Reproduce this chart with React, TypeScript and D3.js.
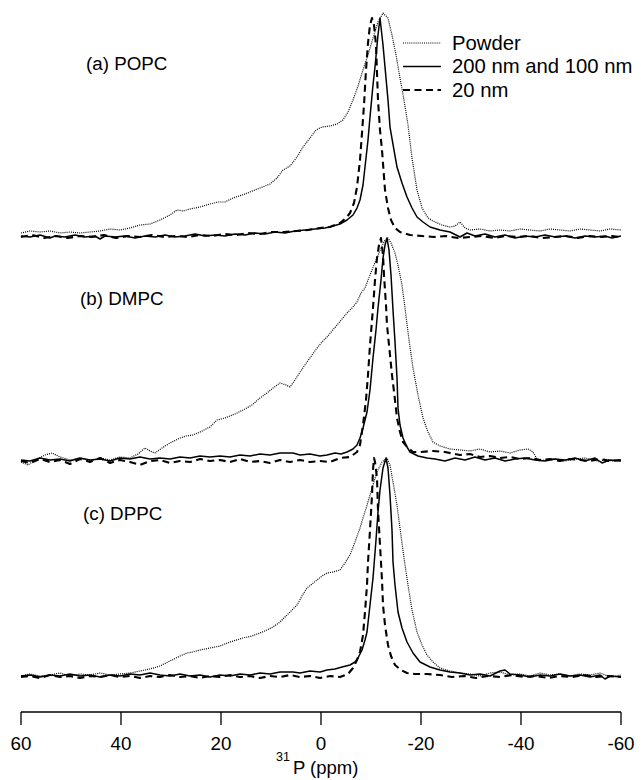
import React from "react";
import * as d3 from "d3";

type Pt = [number, number];

// ---- data: [ppm, intensity] ----
const popcPowder: Pt[] = [
  [60, 1.35], [58.2, 2.25], [56.2, 1.8], [54.2, 2.25], [52.2, 1.35], [50.2, 1.8], [48.2, 1.35], [46.2, 1.8],
  [44.2, 2.25], [42.2, 3.15], [40.2, 2.7], [38.2, 3.6], [36.2, 4.95], [34.2, 5.4], [32.2, 7.2], [30.2, 9.45],
  [28.8, 11.7], [27.6, 11.25], [26.2, 12.15], [24.2, 13.05], [22.2, 14.4], [20.6, 15.3], [19.2, 15.3],
  [17.6, 17.1], [15.2, 18.9], [12.2, 21.6], [10.2, 23.4], [8.8, 26.1], [7.6, 29.7], [6.2, 31.5], [4.8, 35.55],
  [3.6, 40.05], [2.2, 44.1], [1.0, 47.7], [-0.2, 49.05], [-1.8, 49.5], [-3.2, 50.4], [-4.4, 52.2], [-5.4, 55.8],
  [-6.4, 61.2], [-7.4, 67.5], [-8.4, 74.7], [-9.4, 81.45], [-10.4, 89.1], [-11.4, 96.3], [-12.4, 100.35],
  [-13.4, 98.1], [-14.2, 90.45], [-15, 81.45], [-15.8, 71.1], [-16.6, 61.2], [-17.4, 49.95], [-18.2, 35.1],
  [-19.2, 20.7], [-20.2, 12.6], [-21.4, 8.1], [-22.8, 6.3], [-24.2, 4.95], [-25.8, 4.05], [-26.8, 4.5],
  [-27.8, 6.3], [-28.8, 3.6], [-29.8, 2.7], [-31.8, 3.15], [-33.8, 2.25], [-35.8, 2.7], [-37.8, 2.25],
  [-39.8, 3.15], [-41.8, 2.7], [-43.8, 2.25], [-45.8, 3.15], [-47.8, 2.7], [-49.8, 2.25], [-51.8, 3.15],
  [-53.8, 2.7], [-55.8, 2.25], [-57.8, 3.15], [-60, 2.7],
];
const popcLarge: Pt[] = [
  [60, 0], [58.2, -0.45], [56.2, 0.45], [54.2, -0.9], [53.2, 0], [51.2, -0.45], [49.2, 0.45], [47.2, -0.45],
  [45.2, 0], [44.2, -1.35], [43.2, 0], [41.2, -0.45], [39.2, 0], [37.2, -0.9], [35.2, 0], [33.2, -0.45],
  [31.2, 0.45], [29.2, -0.45], [27.2, 0], [25.2, 0.9], [23.2, 0], [21.2, 0.45], [19.2, 0], [17.2, 0.9],
  [15.2, 0.45], [13.2, 1.35], [11.2, 0.9], [9.2, 1.8], [7.2, 1.35], [5.2, 2.25], [3.2, 2.7], [1.2, 3.15],
  [-0.8, 3.6], [-2.4, 4.5], [-3.8, 5.4], [-5.2, 7.2], [-6.4, 9.45], [-7.2, 12.6], [-7.8, 16.2], [-8.4, 22.95],
  [-8.8, 31.05], [-9.4, 43.2], [-9.8, 53.55], [-10.4, 67.95], [-10.8, 76.05], [-11.4, 90.45], [-11.8, 98.1],
  [-12.4, 85.95], [-12.8, 76.05], [-13.4, 61.2], [-13.8, 49.05], [-14.6, 38.7], [-15.2, 31.05], [-16.2, 23.85],
  [-17.2, 17.55], [-18.2, 12.6], [-19.2, 8.55], [-20.4, 6.3], [-21.8, 4.05], [-23.8, 2.7], [-25.8, 1.8],
  [-27.8, -0.45], [-29.2, 1.35], [-30.8, 0], [-32.8, 0.9], [-34.8, -0.45], [-36.8, 0.45], [-38.8, -0.9],
  [-40.8, 0], [-42.8, -0.45], [-44.8, 0.45], [-46.8, -0.45], [-48.8, 0], [-50.8, -0.9], [-52.8, 0],
  [-54.8, -0.45], [-56.8, 0], [-58.2, -0.9], [-60, 0],
];
const popc20: Pt[] = [
  [60, -0.45], [57.8, 0.45], [55.4, -0.9], [53, 0], [50.6, -0.9], [48.2, 0], [45.8, -0.45], [43.4, 0.45],
  [41, -0.9], [38.6, 0], [36.2, -0.45], [33.8, 0.45], [31.4, -0.45], [29, 0], [26.6, -0.45], [24.2, 0.45],
  [21.8, 0], [19.4, 0.9], [17, 0.45], [14.6, 1.35], [12.2, 0.9], [9.8, 1.8], [7.4, 1.8], [5, 2.25], [2.6, 2.7],
  [0.2, 3.6], [-1.8, 4.05], [-3.8, 5.85], [-5, 8.1], [-5.8, 10.35], [-6.6, 14.85], [-7.2, 22.05], [-7.8, 34.2],
  [-8.2, 46.35], [-8.6, 58.95], [-9, 74.7], [-9.4, 86.85], [-9.8, 94.95], [-10.2, 98.1], [-10.6, 94.95],
  [-11, 85.95], [-11.4, 61.2], [-11.8, 47.7], [-12.2, 38.7], [-12.8, 20.7], [-13.4, 12.6], [-14, 7.2],
  [-14.8, 3.6], [-15.8, 1.8], [-17.8, 0.45], [-20.2, 0], [-22.6, -0.45], [-25, 0], [-27.4, -0.9],
  [-29.8, -0.45], [-32.2, 0], [-34.6, -0.9], [-37, 0], [-39.4, -0.45], [-41.8, 0], [-44.2, -0.9],
  [-46.6, -0.45], [-49, 0], [-51.4, -0.9], [-53.8, 0], [-56.2, -0.45], [-58.2, 0], [-60, -0.45],
];

const dmpcPowder: Pt[] = [
  [60, -1.35], [58.6, -2.7], [57.2, -0.45], [55.2, 1.8], [53.8, 2.7], [52.2, 0.9], [50.2, -0.45], [48.2, 0.45],
  [46.2, -0.9], [44.2, 0.45], [42.2, -0.45], [40.2, 0.9], [38.2, 0.45], [36.6, 2.25], [35.2, 4.95], [34.2, 3.6],
  [33.2, 2.7], [31.8, 4.95], [30.2, 7.2], [28.2, 9.45], [27, 10.35], [25.6, 10.8], [24.2, 12.15], [22.2, 14.4],
  [20.8, 17.55], [19.2, 18.45], [17.2, 20.25], [15.6, 22.05], [13.8, 24.3], [12.2, 27.45], [10.8, 29.7],
  [9.6, 31.95], [8.2, 34.2], [7, 33.3], [6.2, 32.4], [5.2, 35.55], [4.2, 39.15], [2.8, 43.65], [1.8, 46.8],
  [0.8, 49.95], [-0.2, 52.65], [-1.2, 54.9], [-2.2, 57.6], [-3.2, 60.3], [-4.2, 63], [-5.2, 65.7],
  [-6.2, 67.95], [-7.2, 70.65], [-8, 74.7], [-8.8, 76.95], [-9.4, 80.55], [-9.8, 82.8], [-10.6, 87.3],
  [-11.2, 90.45], [-12, 94.95], [-12.8, 98.55], [-13.4, 99.45], [-14, 97.2], [-14.8, 92.7], [-15.4, 87.3],
  [-16.2, 78.3], [-16.8, 67.95], [-17.6, 53.55], [-18.4, 40.95], [-19.4, 28.8], [-20.4, 18.45], [-21.4, 12.15],
  [-22.4, 7.65], [-23.8, 5.85], [-25.8, 4.5], [-27.8, 4.05], [-29.8, 3.6], [-31.8, 4.5], [-33.8, 3.15],
  [-35.8, 3.6], [-37.8, 2.7], [-39.8, 4.05], [-41.4, 4.5], [-42.4, 3.15], [-43.4, -0.9], [-44.8, -0.45],
  [-46.8, 0], [-48.8, -0.9], [-50.8, 0], [-52.8, 0.45], [-54.8, -0.45], [-55.8, -1.35], [-56.8, 0],
  [-58.2, -0.9], [-60, -0.45],
];
const dmpcLarge: Pt[] = [
  [60, -0.45], [58.2, -0.9], [56.2, 0.45], [54.2, -0.45], [52.2, 0], [50.2, -0.9], [48.2, 0.45], [46.2, -0.45],
  [44.2, 0], [42.2, -0.9], [40.2, 0.45], [38.2, 0], [36.2, 0.9], [34.2, 0], [32.2, 0.45], [30.2, 0], [28.2, 0.9],
  [26.2, 0.45], [24.2, 1.35], [22.2, 0.9], [20.2, 1.35], [18.2, 0.9], [16.2, 1.8], [14.2, 1.35], [12.2, 2.25],
  [10.2, 1.8], [8.2, 2.7], [5.6, 2.7], [4.2, 1.8], [2.2, 2.25], [0.2, 1.35], [-1.2, 1.8], [-2.8, 2.7], [-4, 2.25],
  [-5.2, 3.15], [-6.4, 4.5], [-7.2, 6.3], [-7.8, 9.45], [-8.4, 13.95], [-9.2, 21.15], [-9.8, 31.05],
  [-10.4, 45.45], [-11, 58.05], [-11.4, 67.95], [-12, 80.55], [-12.4, 90.45], [-12.8, 96.3], [-13.2, 99.45],
  [-13.6, 94.05], [-14, 82.8], [-14.4, 67.05], [-14.8, 52.65], [-15.2, 36.45], [-15.4, 22.95], [-15.8, 15.3],
  [-16.4, 9.45], [-17.2, 5.4], [-17.8, 3.15], [-19.4, 1.35], [-21.2, 0.45], [-22.8, 0], [-24.8, -0.9],
  [-26.8, 0.45], [-28.8, -0.45], [-30.8, 0.9], [-32.8, -0.45], [-34.8, 0.45], [-36.8, -0.9], [-38.8, 0],
  [-40.8, 0.45], [-42.8, -0.45], [-44.8, -0.9], [-46.8, 0], [-48.8, -0.45], [-50.8, 0.45], [-52.8, -0.9],
  [-54.8, 0.45], [-56.2, -1.8], [-57.8, -0.45], [-60, -0.9],
];
const dmpc20: Pt[] = [
  [60, -0.9], [58.2, -1.8], [56.2, 0], [54.2, -1.35], [52.2, -0.45], [50.2, -2.25], [48.2, 0], [46.2, -1.35],
  [44.2, 0.45], [42.2, -1.8], [40.2, -0.45], [38.2, -1.35], [36.2, -2.7], [34.2, -0.9], [32.2, -0.45],
  [30.2, -1.8], [28.2, -0.9], [26.2, -1.35], [24.2, 0], [22.2, -0.9], [20.2, -0.45], [18.2, -1.35], [16.2, 0],
  [14.2, -1.35], [12.2, -0.9], [10.2, -1.8], [8.2, -0.45], [6.2, -1.35], [4.2, -0.45], [2.2, -1.35],
  [0.2, -0.9], [-1.8, -1.35], [-3.8, 0.45], [-5.8, 0.9], [-7.2, 3.15], [-7.8, 6.3], [-8.4, 15.3], [-9, 26.55],
  [-9.4, 37.8], [-9.8, 51.3], [-10.4, 67.95], [-10.8, 80.55], [-11.2, 90.45], [-11.6, 96.3], [-12, 99.45],
  [-12.4, 91.8], [-12.6, 82.8], [-13, 69.3], [-13.2, 60.3], [-13.8, 46.8], [-14.2, 37.8], [-14.8, 26.55],
  [-15.2, 18.45], [-15.8, 12.15], [-16.4, 7.65], [-17.4, 4.95], [-18.4, 3.15], [-19.8, 3.15], [-22.4, 3.6],
  [-24.8, 3.15], [-27.8, 1.8], [-29.8, 2.25], [-31.8, 0.9], [-33.8, 1.35], [-35.8, 0.45], [-37.8, 0.9],
  [-39.8, 0], [-41.8, 0.45], [-43.8, -0.45], [-45.8, 0], [-47.8, -0.9], [-49.8, 0], [-51.8, -0.45],
  [-53.8, -0.9], [-55.8, 0], [-57.8, -0.9], [-60, -0.45],
];

const dppcPowder: Pt[] = [
  [60, 0], [58.2, 0.9], [56.2, 0], [54.2, 0.45], [52.2, 1.35], [50.2, 0], [48.2, 0.9], [46.2, 0.45],
  [44.2, 1.35], [42.2, 0.45], [40.2, 0.9], [38.2, 1.35], [36.2, 2.25], [34.2, 3.15], [32.2, 4.5], [30.2, 6.75],
  [28.2, 9], [26.8, 10.35], [25.6, 10.8], [24.2, 11.7], [22.2, 12.6], [20.2, 13.5], [18.2, 15.3], [15.6, 17.1],
  [13.8, 18], [12.2, 19.35], [10.8, 20.7], [9.6, 22.05], [8.2, 24.3], [6.8, 27.45], [5.8, 29.7], [4.8, 31.95],
  [3.8, 36], [2.8, 39.6], [1.8, 41.4], [0.8, 43.2], [-0.2, 45], [-1.2, 46.35], [-2.4, 46.8], [-3.8, 47.7],
  [-4.8, 50.85], [-5.8, 54.45], [-6.8, 60.3], [-7.8, 66.6], [-8.6, 72.45], [-9.4, 78.3], [-10.2, 84.6],
  [-11.2, 91.8], [-12.2, 96.3], [-13.2, 98.1], [-13.8, 94.95], [-14.4, 87.3], [-15.2, 76.95], [-15.8, 66.6],
  [-16.6, 53.1], [-17.4, 40.95], [-18.2, 29.7], [-19.2, 19.8], [-20.2, 13.95], [-21.2, 9.45], [-22.4, 6.3],
  [-23.8, 3.6], [-25.8, 2.25], [-27.8, 1.35], [-29.8, 0.9], [-31.8, 0], [-33.8, 1.35], [-35.8, 1.8],
  [-37.8, 0.45], [-39.8, 0.9], [-41.8, 0], [-43.8, 1.35], [-45.8, 0.45], [-47.8, 0.9], [-49.8, 0],
  [-51.8, 0.9], [-53.8, 0.45], [-55.8, 1.35], [-57.8, -0.45], [-60, 0.45],
];
const dppcLarge: Pt[] = [
  [60, 0], [58.2, 0.45], [56.2, -0.45], [54.2, 0.45], [52.2, 0], [50.2, 0.9], [48.2, 0], [46.2, 0.45],
  [44.2, -0.45], [42.2, 0.45], [40.2, 0], [38.2, 0.9], [36.2, 0.45], [34.2, 1.35], [32.2, 0.45], [30.2, 0],
  [28.2, 0.9], [26.2, 0], [24.2, 0.45], [22.2, -0.45], [20.2, 0.45], [18.2, 0], [16.2, 0.9], [14.2, 0.45],
  [12.2, 1.35], [10.2, 0.9], [8.2, 1.8], [5.6, 1.8], [4.2, 1.35], [2.2, 2.25], [0.2, 1.8], [-1.2, 2.7],
  [-2.8, 3.15], [-4.2, 4.05], [-5.8, 4.95], [-6.8, 6.3], [-7.4, 8.1], [-8.2, 11.7], [-8.8, 16.2], [-9.2, 19.8],
  [-9.8, 31.95], [-10.4, 44.1], [-11, 61.2], [-11.4, 73.8], [-11.8, 83.7], [-12.4, 93.6], [-13, 98.1],
  [-13.4, 93.6], [-13.8, 81.45], [-14.2, 65.7], [-14.4, 51.3], [-14.8, 40.95], [-15.4, 28.8], [-16.2, 21.6],
  [-17.2, 15.3], [-18.4, 10.35], [-19.8, 6.3], [-21.8, 4.05], [-23.8, 2.7], [-25.8, 1.8], [-27.8, 1.35],
  [-29.8, 0.45], [-31.8, 0.9], [-33.8, 0], [-35.8, 2.25], [-36.8, 2.7], [-37.8, 0.9], [-39.8, 0.45],
  [-41.8, -0.45], [-43.8, 0.45], [-45.8, 0], [-47.8, 0.9], [-49.8, 0], [-51.8, 0.45], [-53.8, -0.45],
  [-55.8, 0.45], [-56.8, -1.35], [-57.8, 0], [-60, -0.45],
];
const dppc20: Pt[] = [
  [60, -0.45], [58.2, 0], [56.2, -0.9], [54.2, 0.45], [52.2, -0.45], [50.2, 0], [48.2, -0.9], [46.2, 0],
  [44.2, -0.45], [42.2, 0.45], [40.2, -0.45], [38.2, 0], [36.2, -0.9], [34.2, 0], [32.2, -0.45], [30.2, 0.45],
  [28.2, -0.45], [26.2, 0], [24.2, -0.9], [22.2, 0], [20.2, -0.45], [18.2, 0.45], [16.2, -0.45], [14.2, 0],
  [12.2, -0.9], [10.2, 0], [8.2, -0.45], [6.2, 0.45], [4.2, -0.45], [2.2, 0], [0.2, -0.9], [-1.8, 0],
  [-3.8, -0.45], [-5.4, 0.9], [-6.4, 3.6], [-7.2, 7.2], [-7.8, 10.8], [-8.4, 18.45], [-8.8, 28.8],
  [-9.2, 40.95], [-9.4, 51.3], [-9.8, 65.7], [-10.2, 81.45], [-10.4, 92.7], [-10.6, 98.1], [-10.8, 96.3],
  [-11.2, 89.1], [-11.4, 74.7], [-11.8, 58.95], [-12.2, 43.2], [-12.4, 31.95], [-12.8, 22.95], [-13.4, 13.95],
  [-14, 9], [-14.8, 4.95], [-16, 2.7], [-17.2, 1.35], [-18.8, 0.9], [-21.2, 0.9], [-23.8, 0.45],
  [-26.2, -0.45], [-28.6, 0], [-31, -0.9], [-33.4, 0], [-35.8, -0.45], [-38.2, 0.45], [-40.6, -0.45],
  [-43, 0], [-45.4, -0.9], [-47.8, 0], [-50.2, -0.45], [-52.6, 0.45], [-55, -0.45], [-57.4, 0], [-60, -0.45],
];

const PANEL_LABELS = ["(a) POPC", "(b) DMPC", "(c) DPPC"];
const SERIES_NAMES = ["Powder", "200 nm and 100 nm", "20 nm"];
const TICKS = [60, 40, 20, 0, -20, -40, -60];
const PANEL_DATA: Pt[][][] = [
  [popcPowder, popcLarge, popc20],
  [dmpcPowder, dmpcLarge, dmpc20],
  [dppcPowder, dppcLarge, dppc20],
];

const FONT = "'Liberation Sans', Arial, Helvetica, sans-serif";

const STYLES = [
  { width: 1.2, dash: "1 1.1", color: "#000" },
  { width: 1.5, dash: "none", color: "#000" },
  { width: 2.1, dash: "7 4.5", color: "#000" },
];

export default function App() {
  const W = 641, H = 780;
  const x = d3.scaleLinear().domain([60, -60]).range([21, 621]);
  const bases = [236, 459, 676];
  const labelPos = [
    { x: 86, y: 70 },
    { x: 80, y: 305 },
    { x: 83, y: 520 },
  ];
  const axisY = 712;

  return (
    <svg
      width={W}
      height={H}
      viewBox={`0 0 ${W} ${H}`}
      style={{ position: "absolute", left: 0, top: 0, background: "#fff" }}
      fontFamily={FONT}
    >
      <rect width={W} height={H} fill="#fff" />
      {PANEL_DATA.map((series, pi) => {
        const y = d3.scaleLinear().domain([0, 100]).range([bases[pi], bases[pi] - 222.2]);
        const line = d3
          .line<Pt>()
          .x((d) => x(d[0]))
          .y((d) => y(d[1]));
        return (
          <g key={pi}>
            {series.map((s, si) => (
              <path
                key={si}
                d={line(s) || ""}
                fill="none"
                stroke={STYLES[si].color}
                strokeWidth={STYLES[si].width}
                strokeDasharray={STYLES[si].dash}
                strokeLinejoin="round"
              />
            ))}
            <text x={labelPos[pi].x} y={labelPos[pi].y} fontSize={18.8} fill="#000">
              {PANEL_LABELS[pi]}
            </text>
          </g>
        );
      })}

      {/* legend */}
      <g>
        {SERIES_NAMES.map((name, i) => (
          <g key={name} transform={`translate(0, ${43 + i * 23.5})`}>
            <line
              x1={403}
              x2={441}
              y1={0}
              y2={0}
              stroke={STYLES[i].color}
              strokeWidth={STYLES[i].width}
              strokeDasharray={STYLES[i].dash}
            />
            <text x={452} y={6.8} fontSize={20.3} fill="#000">
              {name}
            </text>
          </g>
        ))}
      </g>

      {/* x axis */}
      <g>
        <line x1={x(60)} x2={x(-60)} y1={axisY} y2={axisY} stroke="#000" strokeWidth={1.3} />
        {TICKS.map((t) => (
          <g key={t} transform={`translate(${x(t)},${axisY})`}>
            <line y1={0} y2={13} stroke="#000" strokeWidth={1.3} />
            <text y={38} textAnchor="middle" fontSize={18.8} fill="#000">
              {String(t)}
            </text>
          </g>
        ))}
        <text x={276} y={774} fontSize={18.5} fill="#000">
          <tspan fontSize={12.5} dy={-13}>31</tspan>
          <tspan dy={13} dx={3}>P (ppm)</tspan>
        </text>
      </g>
    </svg>
  );
}
